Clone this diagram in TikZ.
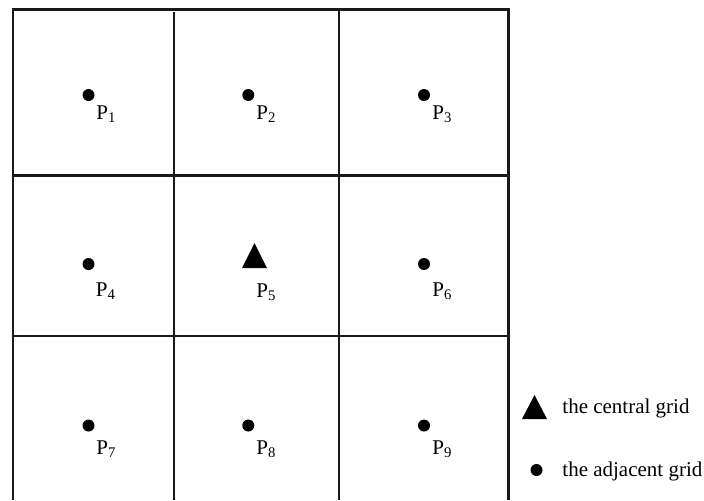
\documentclass[tikz,border=0pt]{standalone}
\usepackage{fontspec}
\setmainfont{Liberation Serif}
\begin{document}
\begin{tikzpicture}[
        x=0.5pt, y=-0.5pt,
        gridline/.style = {line width=1.1pt, black!90},
        adjdot/.style   = {circle, fill=black, inner sep=0pt, minimum size=6pt},
        plbl/.style     = {anchor=base west, inner sep=0pt,
                           font=\fontsize{10.5}{12}\selectfont},
        legtxt/.style   = {anchor=base west, inner sep=0pt,
                           font=\fontsize{10.5}{12}\selectfont}
    ]
        \useasboundingbox (0,0) rectangle (704,500);

        % grid
        \draw[gridline] (12.7,500) -- (12.7,9.5) -- (508.5,9.5) -- (508.5,500);
        \draw[gridline] (173.8,12) -- (173.8,500);
        \draw[gridline] (339.3,9.5) -- (339.3,500);
        \draw[gridline] (12.7,175.5) -- (508.5,175.5);
        \draw[gridline] (12.7,336) -- (508.5,336);

        % adjacent grids
        \node[adjdot] (p1) at (88.5,95) {};
        \node[adjdot] (p2) at (248.3,95) {};
        \node[adjdot] (p3) at (424,95) {};
        \node[adjdot] (p4) at (88.5,264) {};
        \node[adjdot] (p6) at (424,264) {};
        \node[adjdot] (p7) at (88.5,425.5) {};
        \node[adjdot] (p8) at (248.3,425.5) {};
        \node[adjdot] (p9) at (424,425.5) {};

        % central grid
        \coordinate (p5) at (254.5,256);
        \fill (254.5,243) -- (267,268) -- (242,268) -- cycle;

        \node[plbl] (l1) at (96,119) {P\textsubscript{1}};
        \node[plbl] (l2) at (256,119) {P\textsubscript{2}};
        \node[plbl] (l3) at (432,119) {P\textsubscript{3}};
        \node[plbl] (l4) at (95.5,296) {P\textsubscript{4}};
        \node[plbl] (l5) at (256,297) {P\textsubscript{5}};
        \node[plbl] (l6) at (432,296) {P\textsubscript{6}};
        \node[plbl] (l7) at (96,454) {P\textsubscript{7}};
        \node[plbl] (l8) at (256,454) {P\textsubscript{8}};
        \node[plbl] (l9) at (432,454) {P\textsubscript{9}};

        % legend
        \fill (534.5,395) -- (547,419) -- (522,419) -- cycle;
        \node[legtxt] (lcen) at (562,413) {the central grid};
        \node[adjdot] (ldot) at (536.5,470) {};
        \node[legtxt] (ladj) at (562,476) {the adjacent grid};
    \end{tikzpicture}
\end{document}
